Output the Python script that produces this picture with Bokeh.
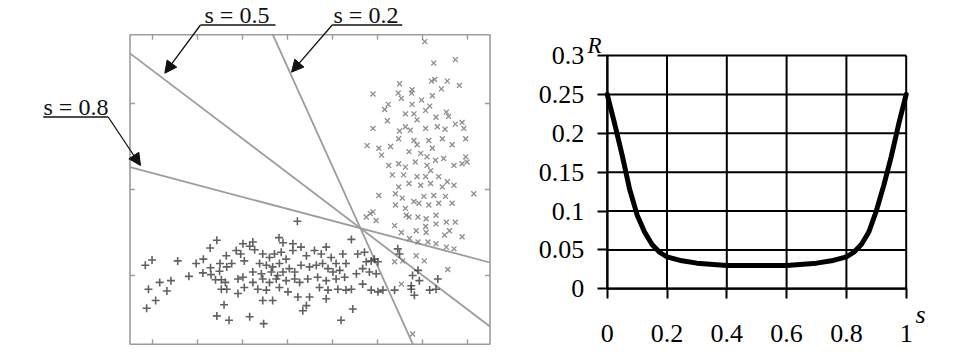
from bokeh.plotting import figure
from bokeh.models import Range1d, Arrow, NormalHead, FixedTicker
from bokeh.layouts import row
from bokeh.embed import file_html
from bokeh.resources import INLINE
from bokeh.core.properties import value

# ---------------- data: left panel (two classes and three separating lines) ----------------
plus_x = [-0.16, -0.01, -0.09, -0.13, 0.07, 0.16, 0.32, 0.41, 0.56, 0.81, 0.97, 1.13, 1.12, 1.28, 1.43,
          1.29, 1.30, 1.40, 1.50, 1.49, 1.64, 1.65, 1.76, 1.53, 1.62, 1.53, 1.65, 1.59, 1.43, 1.70,
          1.86, 1.90, 1.90,
          3.22, 2.81, 2.90, 3.12, 2.23, 2.16, 2.01, 1.96, 2.04, 2.27, 2.45, 2.60, 2.71, 2.86, 2.97,
          3.12, 3.30, 3.42, 3.60, 3.75, 3.86, 3.97, 4.08, 4.23, 4.30, 2.38, 2.53, 2.67, 2.82, 2.23,
          2.42, 2.64, 2.78, 2.90, 3.04, 3.16, 3.30, 3.49, 3.64, 3.78, 3.90, 4.01, 4.16, 2.01, 2.23,
          2.45, 2.60, 2.75, 2.97, 3.16, 3.27, 3.45, 3.67, 3.86, 4.08, 4.27, 2.04, 2.34, 2.53, 2.82,
          3.01, 3.23, 3.49, 3.71, 3.90, 4.12, 4.30, 2.45, 2.67, 3.34, 3.42, 3.86, 2.16, 2.47, 4.19,
          4.42, 4.56, 4.71, 4.75, 4.86, 4.93, 5.01, 4.53, 4.67, 4.82, 4.97, 4.67, 4.86, 5.01, 5.12,
          4.42, 4.45, 5.45, 5.49, 5.75, 5.75, 5.82, 5.93, 6.16, 6.34, 6.30, 5.38, 5.90, 5.78]
plus_y = [0.12, 0.18, -0.16, -0.38, -0.29, -0.08, -0.18, -0.06, 0.17, -0.01, 0.14, 0.19, 0.03, 0.32, 0.41,
          0.09, 0.01, -0.05, 0.14, 0.05, 0.23, 0.10, 0.14, -0.05, -0.08, -0.16, -0.16, -0.34, -0.47, -0.52,
          0.29, -0.04, -0.21,
          0.63, 0.44, 0.38, 0.37, 0.39, 0.34, 0.37, 0.25, 0.17, 0.30, 0.25, 0.21, 0.25, 0.27, 0.19,
          0.29, 0.33, 0.23, 0.29, 0.25, 0.33, 0.21, 0.14, 0.25, 0.14, 0.14, 0.12, 0.10, 0.14, 0.04,
          0.02, 0.04, 0.00, 0.04, 0.08, 0.04, 0.12, 0.10, 0.12, 0.14, 0.08, 0.04, 0.06, -0.02, -0.08,
          -0.04, -0.08, -0.04, -0.06, -0.04, -0.08, -0.04, -0.02, -0.06, -0.04, -0.02, -0.14, -0.16, -0.17, -0.14,
          -0.19, -0.25, -0.25, -0.14, -0.17, -0.16, -0.17, -0.29, -0.29, -0.41, -0.35, -0.27, -0.48, -0.56, -0.52,
          0.42, 0.25, 0.27, 0.16, 0.17, 0.19, 0.16, 0.02, 0.08, 0.04, 0.02, -0.10, -0.17, -0.19, -0.17,
          -0.16, -0.39, 0.31, 0.25, -0.12, -0.16, -0.23, -0.06, -0.17, -0.04, -0.16, -0.17, 0.06, 0.00]

cross_x = [4.75, 4.90, 4.97, 5.38, 5.53, 5.64, 5.90, 6.08, 6.30, 6.30, 6.53, 6.60, 6.49, 5.86, 6.08,
           5.71, 5.90, 6.12, 6.30, 6.53, 5.86, 6.04, 5.38, 5.56, 6.56, 5.53, 5.78, 7.14,
           6.05, 6.73, 6.25, 4.90, 5.49, 5.77, 6.20, 6.27, 6.55, 6.42, 6.82, 5.46, 5.53, 5.76, 5.98,
           6.22, 5.24, 5.16, 5.77, 6.07, 6.16, 5.62, 5.81, 5.88, 6.30, 6.53, 6.58, 5.22, 4.90, 5.49,
           5.62, 5.73, 6.07, 6.33, 6.50, 6.73, 6.88, 6.92,
           6.99, 6.88, 6.70, 5.03, 4.84, 4.77,
           5.03, 5.09, 5.29, 5.47, 5.81, 5.88, 6.14, 6.22, 6.44, 6.66, 6.96, 5.70, 5.96, 6.10, 6.29,
           6.47, 6.70, 6.88, 6.96, 5.25, 5.47, 5.62, 5.84, 6.10, 6.18, 5.33, 5.58, 5.88, 6.07, 6.36,
           6.55, 6.70, 5.47, 5.70, 5.96, 6.18, 6.44, 5.40, 5.55, 5.81, 6.03, 6.25, 6.51, 6.66, 5.40,
           5.62, 5.92, 6.14, 6.36, 5.70, 6.73, 6.07]
cross_y = [0.68, 0.74, 0.64, 0.58, 0.50, 0.70, 0.68, 0.66, 0.70, 0.60, 0.62, 0.52, 0.47, 0.52, 0.50,
           0.43, 0.39, 0.39, 0.37, 0.33, 0.23, 0.17, 0.16, 0.17, 0.07, -0.10, -0.68, 0.95,
           2.72, 2.51, 2.47, 2.11, 2.23, 2.16, 2.26, 2.28, 2.26, 2.17, 2.21, 2.12, 2.06, 2.12, 2.04,
           2.09, 1.99, 1.93, 1.99, 1.92, 1.97, 1.88, 1.88, 1.81, 1.84, 1.90, 1.85, 1.80, 1.71, 1.68,
           1.73, 1.69, 1.71, 1.73, 1.70, 1.76, 1.78, 1.71,
           1.32, 0.45, 0.31, 0.93, 0.72, 1.51,
           1.48, 1.40, 1.50, 1.59, 1.57, 1.52, 1.57, 1.48, 1.59, 1.52, 1.59, 1.44, 1.42, 1.38, 1.34,
           1.36, 1.28, 1.30, 1.38, 1.28, 1.30, 1.26, 1.32, 1.28, 1.22, 1.17, 1.17, 1.15, 1.15, 1.15,
           1.09, 1.05, 1.03, 1.07, 1.05, 1.07, 1.03, 0.95, 0.90, 0.86, 0.92, 0.93, 0.92, 0.84, 0.82,
           0.78, 0.84, 0.82, 0.84, 0.68, 0.62, 0.57]

line_labels = ["s = 0.2", "s = 0.5", "s = 0.8"]
line_slopes = [-1.156, -0.397, -0.1385]
pivot_x, pivot_y = 4.62, 0.55
box_x = (-0.5, 7.5)
box_y = (-0.8, 2.8)
box_xticks = [0, 1, 2, 3, 4, 5, 6, 7]
box_yticks = [0, 1, 2]

# ---------------- data: right panel ----------------
s_vals = [0.0, 0.025, 0.05, 0.075, 0.1, 0.125, 0.15, 0.175, 0.2, 0.25, 0.3, 0.4, 0.5,
          0.6, 0.7, 0.75, 0.8, 0.825, 0.85, 0.875, 0.9, 0.925, 0.95, 0.975, 1.0]
r_vals = [0.25, 0.212, 0.172, 0.128, 0.095, 0.073, 0.057, 0.047, 0.041, 0.036, 0.033, 0.030, 0.030,
          0.030, 0.033, 0.036, 0.041, 0.047, 0.057, 0.073, 0.100, 0.133, 0.170, 0.212, 0.25]
s_tick_labels = ["0", "0.2", "0.4", "0.6", "0.8", "1"]
r_tick_labels = ["0", "0.05", "0.1", "0.15", "0.2", "0.25", "0.3"]

# ---------------- layout constants ----------------
H = 357
LW = 530
RW = 956 - LW
X0, XU, Y0, YU = 152, 45, 275, 86   # left panel: pixel of origin, pixels per unit
BASE = 0.34                         # em offset between text anchor and its baseline


def dx(px):
    return (px - X0) / XU


def dy(py):
    return (Y0 - py) / YU


FONT = "Liberation Serif"
GREY = "#9c9c9c"
INK = "#111111"

left = figure(width=LW, height=H, x_range=Range1d(dx(0), dx(LW)), y_range=Range1d(dy(H), dy(0)),
              x_axis_location=None, y_axis_location=None, output_backend="svg",
              toolbar_location=None, min_border=0, frame_align=False)
left.grid.visible = False
left.outline_line_color = None

# box with inward ticks
left.quad(left=[box_x[0]], right=[box_x[1]], bottom=[box_y[0]], top=[box_y[1]],
          fill_color=None, line_color=GREY, line_width=1.6)
tl = 5
tx0, tx1, ty0, ty1 = [], [], [], []
for t in box_xticks:
    tx0 += [t, t]; tx1 += [t, t]
    ty0 += [box_y[0], box_y[1]]; ty1 += [box_y[0] + tl / YU, box_y[1] - tl / YU]
for t in box_yticks:
    tx0 += [box_x[0], box_x[1]]; tx1 += [box_x[0] + tl / XU, box_x[1] - tl / XU]
    ty0 += [t, t]; ty1 += [t, t]
left.segment(x0=tx0, y0=ty0, x1=tx1, y1=ty1, line_color=GREY, line_width=1.4)


def clip_line(m):
    pts = []
    for xb in box_x:
        yv = pivot_y + m * (xb - pivot_x)
        if box_y[0] <= yv <= box_y[1]:
            pts.append((xb, yv))
    for yb in box_y:
        xv = pivot_x + (yb - pivot_y) / m
        if box_x[0] <= xv <= box_x[1]:
            pts.append((xv, yb))
    pts.sort()
    return pts[0], pts[-1]


lx0, ly0, lx1, ly1 = [], [], [], []
for m in line_slopes:
    a, b = clip_line(m)
    lx0.append(a[0]); ly0.append(a[1]); lx1.append(b[0]); ly1.append(b[1])
left.segment(x0=lx0, y0=ly0, x1=lx1, y1=ly1, line_color=GREY, line_width=1.8)

left.scatter(plus_x, plus_y, marker="cross", size=8, line_color="#3a3a3a", line_width=1.6, line_alpha=0.8)
left.scatter(cross_x, cross_y, marker="x", size=7, line_color="#787878", line_width=1.3, line_alpha=0.85)

# callouts: (text left px, baseline px, underline x0, x1, underline y, leader start, arrow tip)
AF = 24
annot = {
    "s = 0.2": (333, 22.5, 331.7, 401.7, 24.5, (331.7, 24.5), (291, 71.7)),
    "s = 0.5": (204, 22.5, 200, 275, 24.5, (200, 24.5), (164.3, 72.7)),
    "s = 0.8": (43, 114.5, 42.7, 107.7, 116.5, (107.7, 116.5), (140, 165)),
}
for lab in line_labels:
    txp, typ, ux0, ux1, uy, st, tip = annot[lab]
    left.text(x=[dx(txp)], y=[dy(typ - BASE * AF)], text=[lab], text_font=value(FONT),
              text_font_size=f"{AF}px", text_baseline="alphabetic", text_align="left", text_color=INK)
    left.segment(x0=[dx(ux0)], y0=[dy(uy)], x1=[dx(ux1)], y1=[dy(uy)], line_color=INK, line_width=1.3)
    left.add_layout(Arrow(end=NormalHead(size=12, fill_color=INK, line_color=INK),
                          x_start=dx(st[0]), y_start=dy(st[1]), x_end=dx(tip[0]), y_end=dy(tip[1]),
                          line_color=INK, line_width=1.3))

# ---------------- right panel ----------------
RX0 = 606.7 - LW      # pixel (within the right figure) of s = 0
RXU = 299.0           # pixels per unit of s
RY0 = 288.3           # pixel of R = 0
RYU = 233.3 / 0.3     # pixels per unit of R


def rx(px):
    return (px - LW - RX0) / RXU


def ry(py):
    return (RY0 - py) / RYU


right = figure(width=RW, height=H, x_range=Range1d(-RX0 / RXU, (RW - RX0) / RXU),
               y_range=Range1d(-(H - RY0) / RYU, RY0 / RYU), min_border=0,
               output_backend="svg", toolbar_location=None, frame_align=False)
right.outline_line_color = None
right.grid.visible = False

s_ticks = [float(t) for t in s_tick_labels]
r_ticks = [float(t) for t in r_tick_labels]

# grid bounded to the data box
right.segment(x0=s_ticks, y0=[r_ticks[0]] * len(s_ticks), x1=s_ticks, y1=[r_ticks[-1]] * len(s_ticks),
              line_color="black", line_width=2)
right.segment(x0=[s_ticks[0]] * len(r_ticks), y0=r_ticks, x1=[s_ticks[-1]] * len(r_ticks), y1=r_ticks,
              line_color="black", line_width=2)

right.xaxis.fixed_location = 0
right.yaxis.fixed_location = 0
right.xaxis.bounds = (s_ticks[0], s_ticks[-1])
right.yaxis.bounds = (r_ticks[0], r_ticks[-1])
right.xaxis.ticker = FixedTicker(ticks=s_ticks)
right.yaxis.ticker = FixedTicker(ticks=r_ticks)
right.xaxis.major_label_overrides = {float(t): t for t in s_tick_labels}
right.yaxis.major_label_overrides = {float(t): t for t in r_tick_labels}
for ax in (right.xaxis, right.yaxis):
    ax.axis_line_width = 2
    ax.axis_line_color = "black"
    ax.major_tick_line_width = 2
    ax.major_tick_line_color = "black"
    ax.major_tick_out = 10
    ax.major_tick_in = 0
    ax.minor_tick_line_color = None
    ax.major_label_text_font = FONT
    ax.major_label_text_font_size = "26px"
    ax.major_label_text_color = "black"
right.xaxis.major_label_standoff = 26
right.yaxis.major_label_standoff = 13

right.line(s_vals, r_vals, line_width=5, line_color="black", line_join="round", line_cap="round")

RF, SF = 23, 26
right.text(x=[rx(587)], y=[ry(53.3 - BASE * RF)], text=["R"], text_font=value(FONT),
           text_font_size=f"{RF}px", text_font_style="italic", text_baseline="alphabetic",
           text_align="left", text_color="black")
right.text(x=[rx(915)], y=[ry(323 - BASE * SF)], text=["s"], text_font=value(FONT),
           text_font_size=f"{SF}px", text_font_style="italic", text_baseline="alphabetic",
           text_align="left", text_color="black")

layout = row(left, right)
open("out.html", "w").write(file_html(layout, INLINE))
